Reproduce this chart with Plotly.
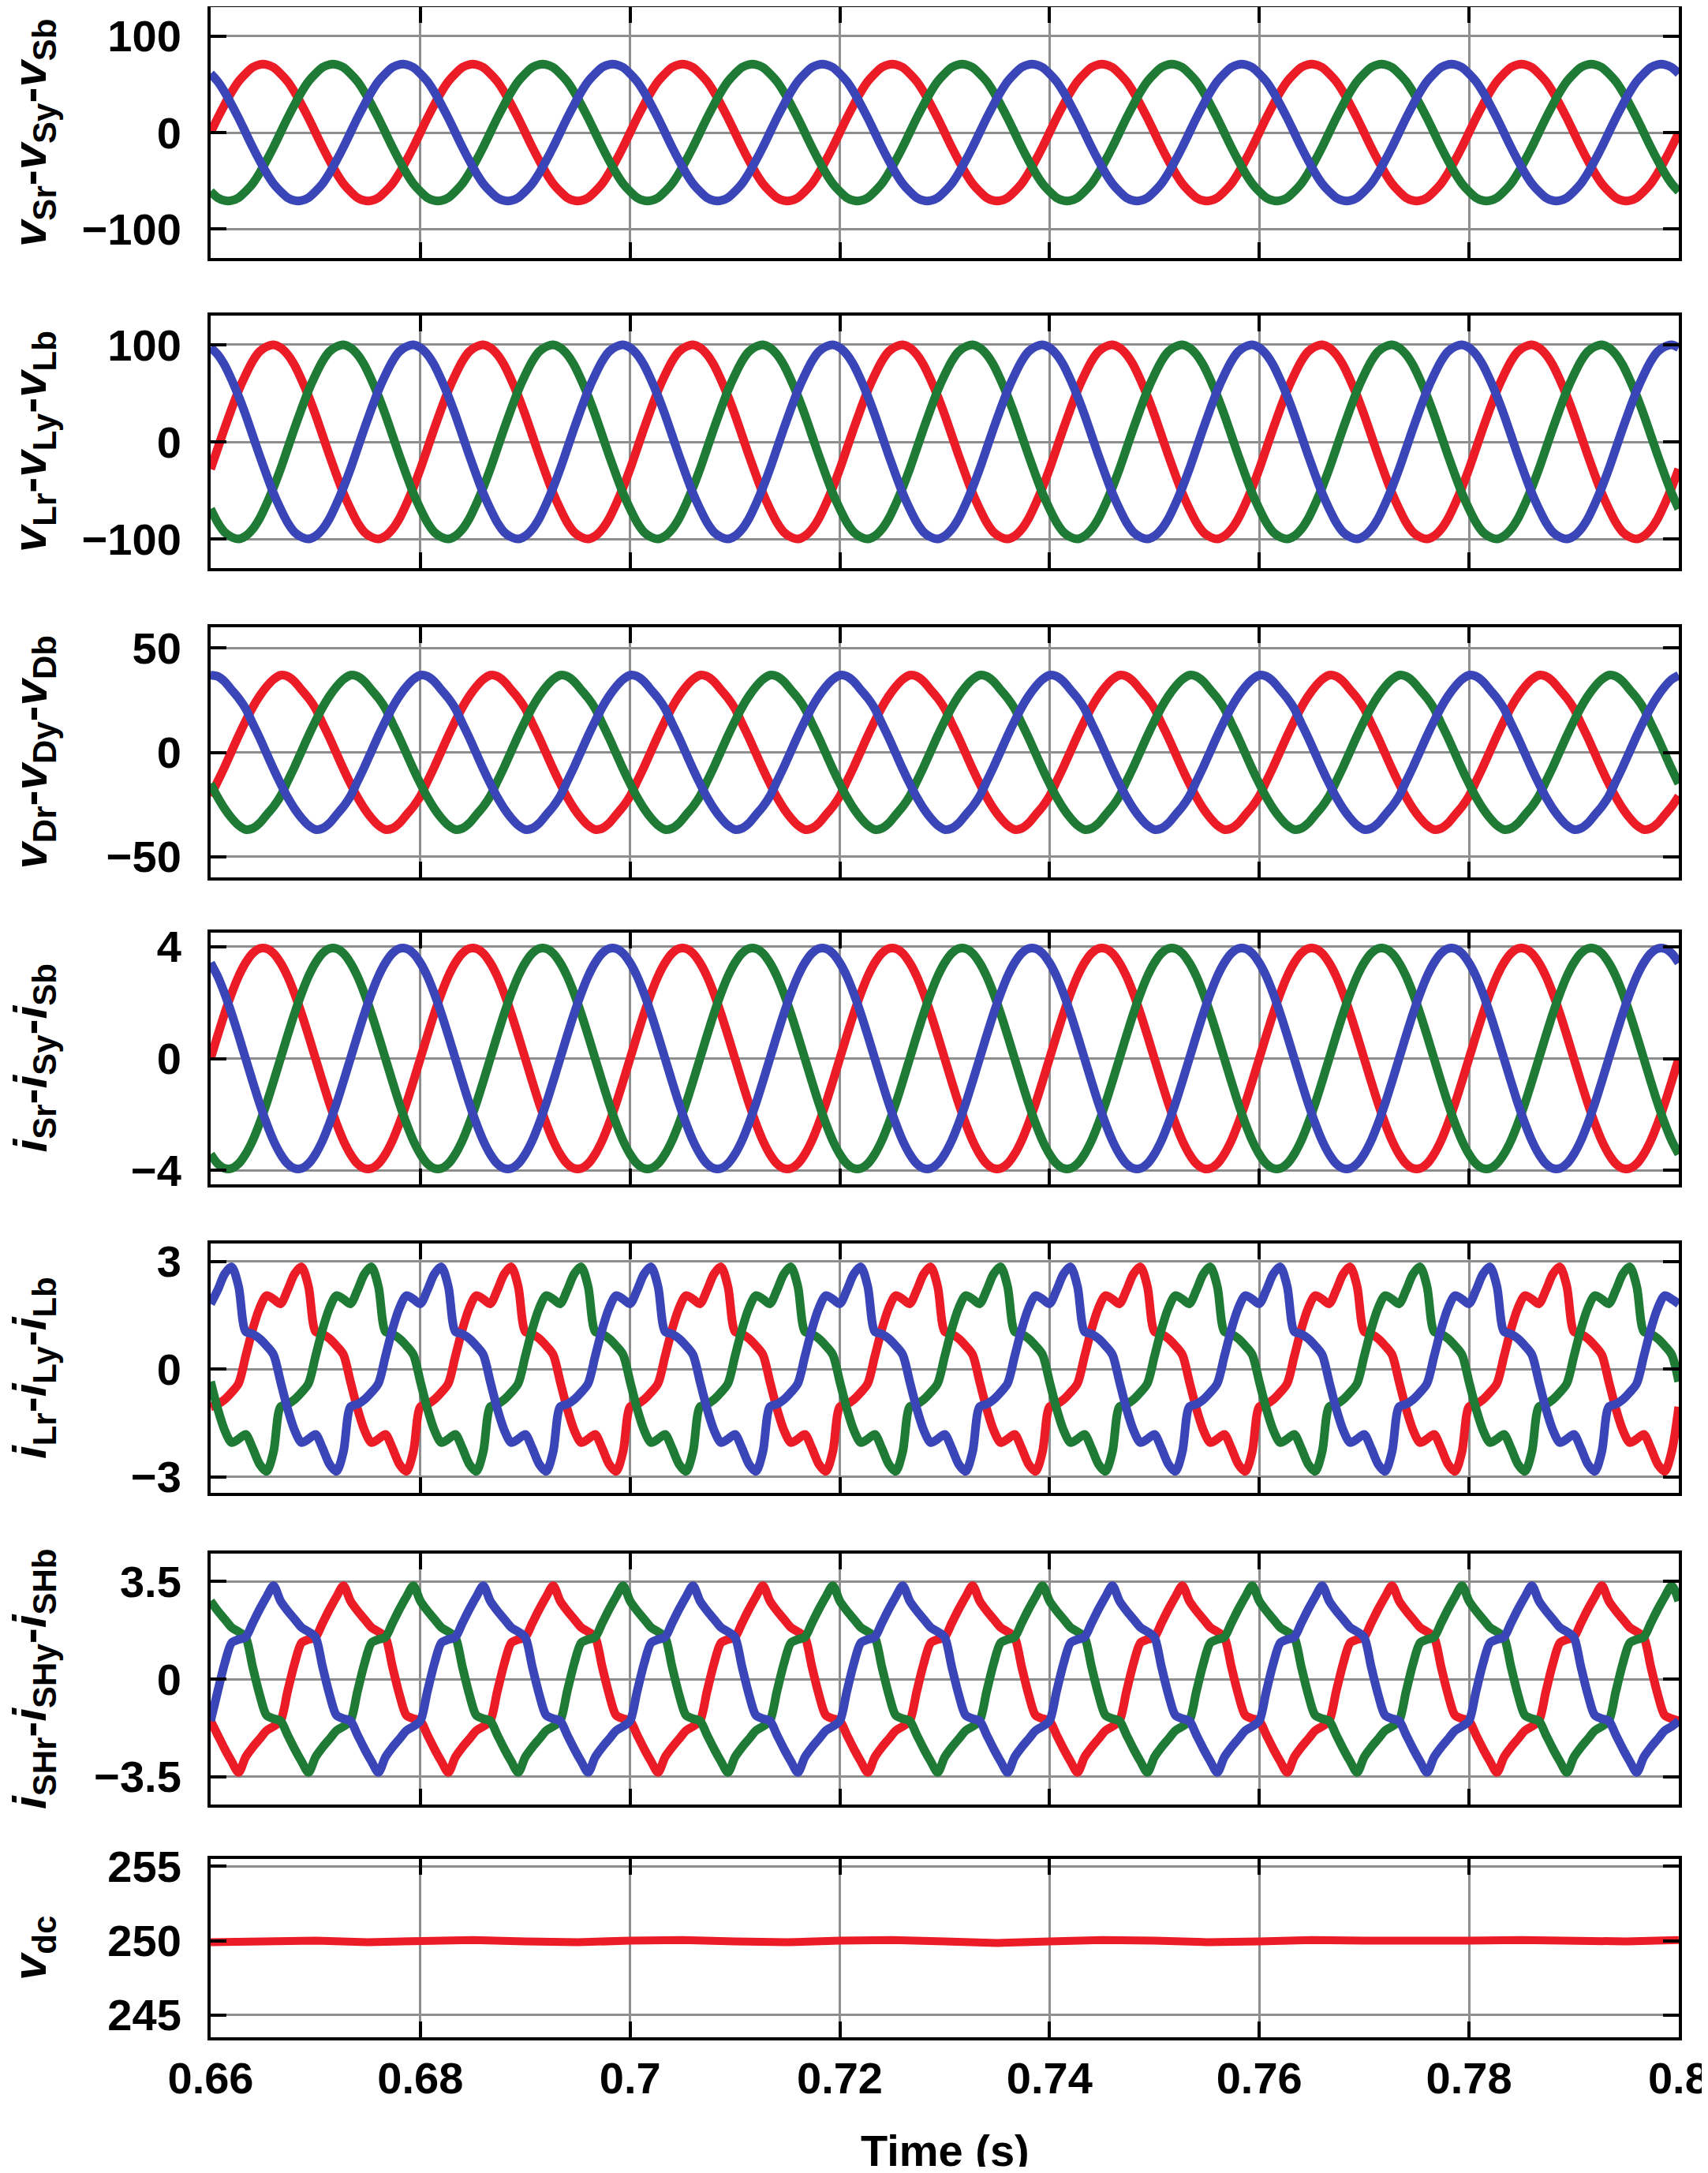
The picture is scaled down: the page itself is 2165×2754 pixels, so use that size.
import numpy as np
import plotly.graph_objects as go

# ---------------- data ----------------
T_START = 0.66
N_CYCLES = 7
PERIOD = 0.02
SPC = 30  # samples per cycle (every 2/3 ms)

x_tickvals = [0.66, 0.68, 0.70, 0.72, 0.74, 0.76, 0.78, 0.80]
x_ticktext = ["0.66", "0.68", "0.7", "0.72", "0.74", "0.76", "0.78", "0.8"]

# supply voltages (one cycle, 30 samples)
vS_r = [0, 15, 29, 42, 53, 61, 67.5, 70.5, 70.5, 67.5, 61, 53, 42, 29, 15,
        0, -15, -29, -42, -53, -61, -67.5, -70.5, -70.5, -67.5, -61, -53, -42, -29, -15]
vS_y = [-61, -67.5, -70.5, -70.5, -67.5, -61, -53, -42, -29, -15, 0, 15, 29, 42, 53,
        61, 67.5, 70.5, 70.5, 67.5, 61, 53, 42, 29, 15, 0, -15, -29, -42, -53]
vS_b = [61, 53, 42, 29, 15, 0, -15, -29, -42, -53, -61, -67.5, -70.5, -70.5, -67.5,
        -61, -53, -42, -29, -15, 0, 15, 29, 42, 53, 61, 67.5, 70.5, 70.5, 67.5]

# load voltages
vL_r = [-28, -7, 14, 34, 53, 69, 83, 93, 98, 100, 97, 90, 79, 64, 47,
        28, 7, -14, -34, -53, -69, -83, -93, -98, -100, -97, -90, -79, -64, -47]
vL_y = [-69, -83, -93, -98, -100, -97, -90, -79, -64, -47, -28, -7, 14, 34, 53,
        69, 83, 93, 98, 100, 97, 90, 79, 64, 47, 28, 7, -14, -34, -53]
vL_b = [97, 90, 79, 64, 47, 28, 7, -14, -34, -53, -69, -83, -93, -98, -100,
        -97, -90, -79, -64, -47, -28, -7, 14, 34, 53, 69, 83, 93, 98, 100]

# DVR injected voltages
vD_r = [-21, -14, -7, 0.5, 8, 15, 21.5, 27, 31.5, 35, 37, 36.5, 34, 30, 26,
        21, 14, 7, -0.5, -8, -15, -21.5, -27, -31.5, -35, -37, -36.5, -34, -30, -26]
vD_y = [-15, -21.5, -27, -31.5, -35, -37, -36.5, -34, -30, -26, -21, -14, -7, 0.5, 8,
        15, 21.5, 27, 31.5, 35, 37, 36.5, 34, 30, 26, 21, 14, 7, -0.5, -8]
vD_b = [37, 36.5, 34, 30, 26, 21, 14, 7, -0.5, -8, -15, -21.5, -27, -31.5, -35,
        -37, -36.5, -34, -30, -26, -21, -14, -7, 0.5, 8, 15, 21.5, 27, 31.5, 35]

# supply currents
iS_r = [0, 0.82, 1.61, 2.32, 2.94, 3.42, 3.76, 3.93, 3.93, 3.76, 3.42, 2.94, 2.32, 1.61, 0.82,
        0, -0.82, -1.61, -2.32, -2.94, -3.42, -3.76, -3.93, -3.93, -3.76, -3.42, -2.94, -2.32, -1.61, -0.82]
iS_y = [-3.42, -3.76, -3.93, -3.93, -3.76, -3.42, -2.94, -2.32, -1.61, -0.82, 0, 0.82, 1.61, 2.32, 2.94,
        3.42, 3.76, 3.93, 3.93, 3.76, 3.42, 2.94, 2.32, 1.61, 0.82, 0, -0.82, -1.61, -2.32, -2.94]
iS_b = [3.42, 2.94, 2.32, 1.61, 0.82, 0, -0.82, -1.61, -2.32, -2.94, -3.42, -3.76, -3.93, -3.93, -3.76,
        -3.42, -2.94, -2.32, -1.61, -0.82, 0, 0.82, 1.61, 2.32, 2.94, 3.42, 3.76, 3.93, 3.93, 3.76]

# load currents (non-linear load)
iL_r = [-1.05, -0.98, -0.85, -0.65, -0.4, 0.35, 1.1, 1.7, 2.05, 1.95, 1.82, 2.2, 2.65, 2.85, 2.3,
        1.05, 0.98, 0.85, 0.65, 0.4, -0.35, -1.1, -1.7, -2.05, -1.95, -1.82, -2.2, -2.65, -2.85, -2.3]
iL_y = [-0.35, -1.1, -1.7, -2.05, -1.95, -1.82, -2.2, -2.65, -2.85, -2.3, -1.05, -0.98, -0.85, -0.65, -0.4,
        0.35, 1.1, 1.7, 2.05, 1.95, 1.82, 2.2, 2.65, 2.85, 2.3, 1.05, 0.98, 0.85, 0.65, 0.4]
iL_b = [1.82, 2.2, 2.65, 2.85, 2.3, 1.05, 0.98, 0.85, 0.65, 0.4, -0.35, -1.1, -1.7, -2.05, -1.95,
        -1.82, -2.2, -2.65, -2.85, -2.3, -1.05, -0.98, -0.85, -0.65, -0.4, 0.35, 1.1, 1.7, 2.05, 1.95]

# shunt compensator currents
iSH_r = [-1.5, -2.0, -2.5, -2.95, -3.35, -2.8, -2.45, -2.15, -1.85, -1.7, -1.5, -0.45, 0.55, 1.3, 1.42,
         1.5, 2.0, 2.5, 2.95, 3.35, 2.8, 2.45, 2.15, 1.85, 1.7, 1.5, 0.45, -0.55, -1.3, -1.42]
iSH_y = [2.8, 2.45, 2.15, 1.85, 1.7, 1.5, 0.45, -0.55, -1.3, -1.42, -1.5, -2.0, -2.5, -2.95, -3.35,
         -2.8, -2.45, -2.15, -1.85, -1.7, -1.5, -0.45, 0.55, 1.3, 1.42, 1.5, 2.0, 2.5, 2.95, 3.35]
iSH_b = [-1.5, -0.45, 0.55, 1.3, 1.42, 1.5, 2.0, 2.5, 2.95, 3.35, 2.8, 2.45, 2.15, 1.85, 1.7,
         1.5, 0.45, -0.55, -1.3, -1.42, -1.5, -2.0, -2.5, -2.95, -3.35, -2.8, -2.45, -2.15, -1.85, -1.7]

# dc-link voltage (every 5 ms)
vdc = [249.9, 249.95, 250.0, 249.9, 249.95, 250.05, 249.95, 249.9, 250.0, 250.05,
       249.95, 249.9, 250.0, 250.05, 249.95, 249.85, 249.95, 250.05, 250.0, 249.9,
       249.95, 250.05, 250.0, 249.95, 250.0, 250.05, 249.95, 249.95, 250.05]

# ---------------- figure ----------------
# page has an 8px body margin, so the figure is 16px smaller than the window
W, H = 2149, 2738
ML, MR = 259, 29
RED, GREEN, BLUE = "#EC1C26", "#1E7A34", "#3A45B8"
FONT = "Liberation Sans, Arial, Helvetica, sans-serif"


def periodic(cycle):
    return list(np.tile(cycle, N_CYCLES)) + [cycle[0]]


t = T_START + np.arange(N_CYCLES * SPC + 1) * (PERIOD / SPC)
t_dc = T_START + np.arange(len(vdc)) * 0.005

panels = [
    dict(series=[vS_r, vS_y, vS_b], rng=[-130, 130], tv=[-100, 0, 100], tt=["\u2212100", "0", "100"],
         px=(1, 319), title="<i>v</i><sub>Sr</sub>-<i>v</i><sub>Sy</sub>-<i>v</i><sub>Sb</sub>"),
    dict(series=[vL_r, vL_y, vL_b], rng=[-130, 130], tv=[-100, 0, 100], tt=["\u2212100", "0", "100"],
         px=(392, 712), title="<i>v</i><sub>Lr</sub>-<i>v</i><sub>Ly</sub>-<i>v</i><sub>Lb</sub>"),
    dict(series=[vD_r, vD_y, vD_b], rng=[-60, 60], tv=[-50, 0, 50], tt=["\u221250", "0", "50"],
         px=(787, 1104), title="<i>v</i><sub>Dr</sub>-<i>v</i><sub>Dy</sub>-<i>v</i><sub>Db</sub>"),
    dict(series=[iS_r, iS_y, iS_b], rng=[-4.5, 4.5], tv=[-4, 0, 4], tt=["\u22124", "0", "4"],
         px=(1174, 1493), title="<i>i</i><sub>Sr</sub>-<i>i</i><sub>Sy</sub>-<i>i</i><sub>Sb</sub>"),
    dict(series=[iL_r, iL_y, iL_b], rng=[-3.45, 3.5], tv=[-3, 0, 3], tt=["\u22123", "0", "3"],
         px=(1568, 1884), title="<i>i</i><sub>Lr</sub>-<i>i</i><sub>Ly</sub>-<i>i</i><sub>Lb</sub>"),
    dict(series=[iSH_r, iSH_y, iSH_b], rng=[-4.5, 4.5], tv=[-3.5, 0, 3.5], tt=["\u22123.5", "0", "3.5"],
         px=(1961, 2279), title="<i>i</i><sub>SHr</sub>-<i>i</i><sub>SHy</sub>-<i>i</i><sub>SHb</sub>"),
    dict(series=None, rng=[243.5, 255.5], tv=[245, 250, 255], tt=["245", "250", "255"],
         px=(2348, 2574), title="<i>v</i><sub>dc</sub>"),
]

fig = go.Figure()
layout = dict(
    width=W, height=H,
    margin=dict(l=ML, r=MR, t=0, b=0, pad=0, autoexpand=False),
    paper_bgcolor="white", plot_bgcolor="white",
    showlegend=False,
    font=dict(family=FONT, color="black"),
)

axis_common = dict(
    showline=True, linecolor="black", linewidth=4, mirror="ticks",
    ticks="inside", ticklen=20, tickwidth=4, tickcolor="black",
    showgrid=True, gridcolor="#8e8e8e", gridwidth=3, zeroline=False,
    automargin=False,
    tickfont=dict(family=FONT, size=56, color="black", weight="bold"),
)

annotations = []
n = len(panels)
for i, p in enumerate(panels):
    k = i + 1
    xname = "x" if k == 1 else f"x{k}"
    yname = "y" if k == 1 else f"y{k}"
    top, bot = p["px"]
    dom = [max(0.0, 1 - bot / H), min(1.0, 1 - top / H)]
    if p["series"] is not None:
        for s, c in zip(p["series"], [RED, GREEN, BLUE]):
            fig.add_trace(go.Scatter(x=t, y=periodic(s), mode="lines",
                                     line=dict(color=c, width=11, shape="spline", smoothing=0.8),
                                     xaxis=xname, yaxis=yname, hoverinfo="skip"))
    else:
        fig.add_trace(go.Scatter(x=t_dc, y=vdc, mode="lines",
                                 line=dict(color=RED, width=10),
                                 xaxis=xname, yaxis=yname, hoverinfo="skip"))
    xa = dict(axis_common, domain=[0, 1], anchor=yname, range=[0.66, 0.80001],
              tickvals=x_tickvals, ticktext=x_ticktext,
              showticklabels=(k == n), ticklabelstandoff=0,
              ticklabeloverflow="allow")
    if k > 1:
        xa["matches"] = "x"
    ya = dict(axis_common, domain=dom, anchor=xname, range=p["rng"],
              tickvals=p["tv"], ticktext=p["tt"], ticklabelstandoff=22)
    layout["xaxis" if k == 1 else f"xaxis{k}"] = xa
    layout["yaxis" if k == 1 else f"yaxis{k}"] = ya
    annotations.append(dict(
        text="<b>" + p["title"] + "</b>", textangle=-90,
        xref="paper", yref="paper",
        x=(34 - ML) / (W - ML - MR), y=1 - (top + bot) / 2 / H,
        xanchor="center", yanchor="middle", showarrow=False,
        font=dict(family=FONT, size=60, color="black"),
    ))

annotations.append(dict(
    text="<b>Time (s)</b>", xref="paper", yref="paper",
    x=0.5, y=1 - 2717 / H, xanchor="center", yanchor="middle", showarrow=False,
    font=dict(family=FONT, size=56, color="black"),
))
layout["annotations"] = annotations
fig.update_layout(**layout)

fig.write_html("out.html")
